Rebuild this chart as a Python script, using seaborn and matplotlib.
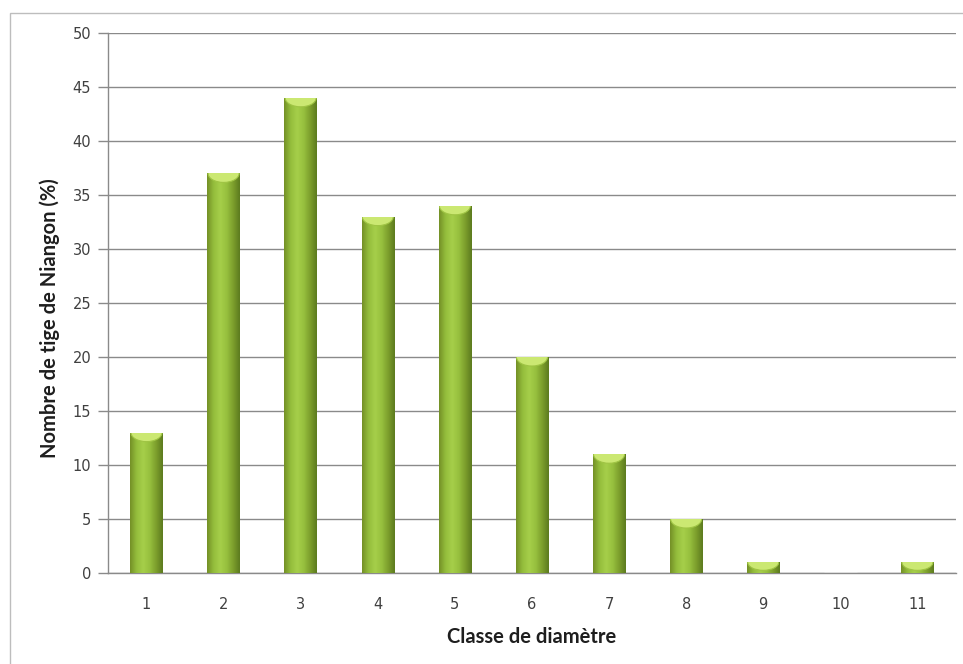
import numpy as np
import pandas as pd
import matplotlib
matplotlib.use("Agg")
import matplotlib.pyplot as plt
from matplotlib.patches import Ellipse, Rectangle
from matplotlib.colors import LinearSegmentedColormap
import seaborn as sns

# Diameter classes and share of Niangon stems per class (%)
classes = ["1", "2", "3", "4", "5", "6", "7", "8", "9", "10", "11"]
percent = [13, 37, 44, 33, 34, 20, 11, 5, 1, 0, 1]
y_ticks = [0, 5, 10, 15, 20, 25, 30, 35, 40, 45, 50]

df = pd.DataFrame({"classe": classes, "pct": percent})

sns.set_theme(style="white")
plt.rcParams["font.family"] = ["DejaVu Sans"]

fig = plt.figure(figsize=(9.63, 6.64), dpi=100)
ax = fig.add_axes([0.1121, 0.1370, 0.8806, 0.8133])

sns.barplot(data=df, x="classe", y="pct", ax=ax, color="#8db336",
            width=0.42, saturation=1, zorder=3)

# Cylinder shading: horizontal gradient across every bar, light cap on top
body = LinearSegmentedColormap.from_list(
    "body", ["#738f26", "#94bd3c", "#a6cf4a", "#97c03e", "#7c9e2c", "#5c7a1e"])
grad = np.linspace(0, 1, 256).reshape(1, -1)
px_per_unit = (573 - 33) / 50.0
cap_h = 9.0 / px_per_unit
for bar in ax.patches:
    x0, w, h = bar.get_x(), bar.get_width(), bar.get_height()
    if h <= 0:
        continue
    bar.set_facecolor("none")
    bar.set_edgecolor("none")
    im = ax.imshow(grad, cmap=body, aspect="auto",
                   extent=(x0, x0 + w, 0, h), zorder=3, interpolation="bicubic")
    im.set_clip_path(Rectangle((x0, 0), w, h, transform=ax.transData))
    cap = Ellipse((x0 + w / 2, h), w * 0.96, 2 * min(cap_h, h * 0.75),
                  facecolor="#cbe872", edgecolor="#9fc444", lw=0.8, zorder=4)
    ax.add_patch(cap)
    cap.set_clip_path(Rectangle((x0, 0), w, h, transform=ax.transData))

ax.set_xlim(-0.5, len(classes) - 0.5)
ax.set_ylim(0, 50)
ax.set_yticks(y_ticks)
ax.yaxis.grid(True, color="#8a8a8a", linewidth=1.0, zorder=0)
ax.set_axisbelow(True)

for side in ["top", "right"]:
    ax.spines[side].set_visible(False)
for side in ["left", "bottom"]:
    ax.spines[side].set_color("#8a8a8a")
    ax.spines[side].set_linewidth(1.0)

ax.tick_params(axis="y", left=True, length=7, width=1, color="#8a8a8a",
               labelsize=10.5, labelcolor="#404040", pad=5)
ax.tick_params(axis="x", bottom=False, labelsize=10.5, labelcolor="#404040", pad=11)

ax.set_xlabel("Classe de diamètre", fontsize=14.5, fontweight="bold",
              color="#1e1e1e", family=["Lato", "DejaVu Sans"])
ax.set_ylabel("Nombre de tige de Niangon (%)", fontsize=14.5, fontweight="bold",
              color="#1e1e1e", family=["Lato", "DejaVu Sans"])
ax.xaxis.set_label_coords(0.5, -0.100)
ax.yaxis.set_label_coords(-0.056, 0.472)

# Chart frame
fig.patches.append(Rectangle((10 / 963, -0.05), 1.1, (664 - 13) / 664 + 0.05,
                             transform=fig.transFigure, fill=False,
                             edgecolor="#bdbdbd", linewidth=1.0))

fig.savefig("out.png", dpi=100)
